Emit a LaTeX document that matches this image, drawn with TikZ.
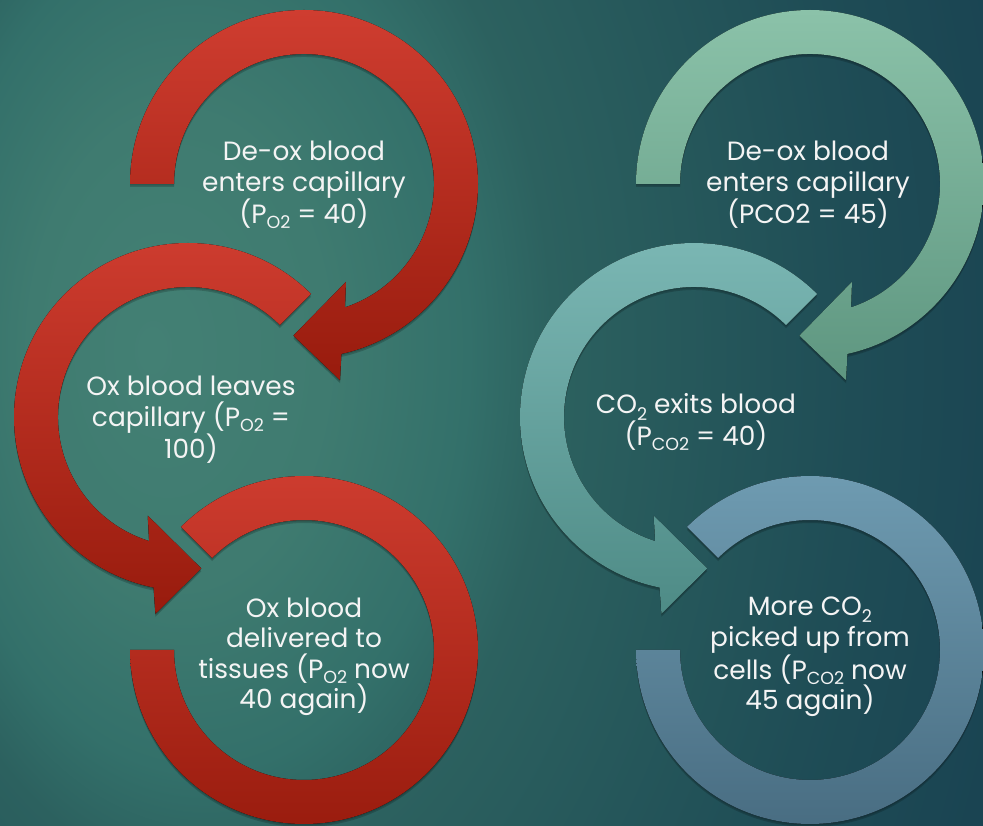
\documentclass[tikz,border=0pt]{standalone}
\usepackage{fontspec}
\setmainfont{Poppins}
\definecolor{bgA}{HTML}{438074}
\definecolor{bgB}{HTML}{3F7B70}
\definecolor{bgC}{HTML}{33706A}
\definecolor{bgD}{HTML}{2C615F}
\definecolor{bgE}{HTML}{1F4D56}
\definecolor{bgF}{HTML}{173F50}
\definecolor{bgG}{HTML}{143A4B}
\definecolor{redT}{HTML}{CF3D30}
\definecolor{redM}{HTML}{C5352A}
\definecolor{redB}{HTML}{981B0D}
\definecolor{grnT}{HTML}{8BC2A9}
\definecolor{grnM}{HTML}{7FB59D}
\definecolor{grnB}{HTML}{5E9680}
\definecolor{tealT}{HTML}{7CB8B5}
\definecolor{tealM}{HTML}{6DA9A6}
\definecolor{tealB}{HTML}{4E8B86}
\definecolor{bluT}{HTML}{709DB3}
\definecolor{bluM}{HTML}{6290A6}
\definecolor{bluB}{HTML}{476B80}
\definecolor{txtc}{HTML}{F4F4F4}
\pgfdeclareradialshading{bgsh}{\pgfpoint{-17.4bp}{0bp}}{color(0bp)=(bgA); color(7.6bp)=(bgB); color(13.6bp)=(bgC); color(17.2bp)=(bgD); color(30bp)=(bgE); color(42bp)=(bgF); color(46bp)=(bgG); color(90bp)=(bgG)}
\newcommand\sbs[1]{\raisebox{-5pt}{\fontsize{17.5}{17.5}\selectfont #1}}
\newcommand\sbsl[1]{\raisebox{-7pt}{\fontsize{17.5}{17.5}\selectfont #1}}
\tikzset{
  arr/.style={preaction={fill=black,opacity=.18,transform canvas={yshift=-3pt}},
              preaction={fill=black,opacity=.12,transform canvas={yshift=-1.5pt}}},
  redarr/.style={arr,top color=redT,middle color=redM,bottom color=redB},
  grnarr/.style={arr,top color=grnT,middle color=grnM,bottom color=grnB},
  tealarr/.style={arr,top color=tealT,middle color=tealM,bottom color=tealB},
  bluarr/.style={arr,top color=bluT,middle color=bluM,bottom color=bluB},
  txt/.style={text=txtc,align=center,inner sep=0pt,font=\fontsize{26.4}{30.5}\selectfont}
}
\begin{document}
\begin{tikzpicture}[x=1pt,y=1pt]
\useasboundingbox (0,0) rectangle (983,825);
\begin{scope}
\clip (0,0) rectangle (983,825);
\shade[shading=bgsh] (0,-300) rectangle (983,1250);
\end{scope}
% centres
\coordinate (L1) at (304,641);
\coordinate (L2) at (188,408);
\coordinate (L3) at (304,175);
\coordinate (R1) at (810,641);
\coordinate (R2) at (694,408);
\coordinate (R3) at (810,175);
% left arrows
\begin{scope}[shift={(L1)}]
\fill[redarr] (180:174) arc[start angle=180,end angle=-77.6,radius=174]
  -- (-79.6:199.5) -- (-94:152) -- (-66.8:106.5) -- (-71.6:130)
  arc[start angle=-71.6,end angle=180,radius=130] -- cycle;
\end{scope}
\begin{scope}[shift={(L2)}]
\fill[redarr] (45:174) arc[start angle=45,end angle=258.6,radius=174]
  -- (260.6:199.5) -- (275:152) -- (247.8:106.5) -- (252.6:130)
  arc[start angle=252.6,end angle=45,radius=130] -- cycle;
\end{scope}
\begin{scope}[shift={(L3)}]
\fill[redarr] (135:174) arc[start angle=135,end angle=-180,radius=174]
  -- (180:130) arc[start angle=-180,end angle=135,radius=130] -- cycle;
\end{scope}
% right arrows
\begin{scope}[shift={(R1)}]
\fill[grnarr] (180:174) arc[start angle=180,end angle=-77.6,radius=174]
  -- (-79.6:199.5) -- (-94:152) -- (-66.8:106.5) -- (-71.6:130)
  arc[start angle=-71.6,end angle=180,radius=130] -- cycle;
\end{scope}
\begin{scope}[shift={(R2)}]
\fill[tealarr] (45:174) arc[start angle=45,end angle=258.6,radius=174]
  -- (260.6:199.5) -- (275:152) -- (247.8:106.5) -- (252.6:130)
  arc[start angle=252.6,end angle=45,radius=130] -- cycle;
\end{scope}
\begin{scope}[shift={(R3)}]
\fill[bluarr] (135:174) arc[start angle=135,end angle=-180,radius=174]
  -- (180:130) arc[start angle=-180,end angle=135,radius=130] -- cycle;
\end{scope}
% texts
\node[txt] (tL1) at (304,640) {De-ox blood\\enters capillary\\(P\sbs{O2} = 40)};
\node[txt] (tL2) at (191,405) {Ox blood leaves\\capillary (P\sbs{O2} =\\100)};
\node[txt] (tL3) at (304,168) {Ox blood\\delivered to\\tissues (P\sbs{O2} now\\40 again)};
\node[txt] (tR1) at (808,640) {De-ox blood\\enters capillary\\(PCO2 = 45)};
\node[txt] (tR2) at (696,403) {CO\sbsl{2} exits blood\\(P\sbs{CO2} = 40)};
\node[txt] (tR3) at (810,168) {More CO\sbsl{2}\\picked up from\\cells (P\sbs{CO2} now\\45 again)};
\end{tikzpicture}
\end{document}
